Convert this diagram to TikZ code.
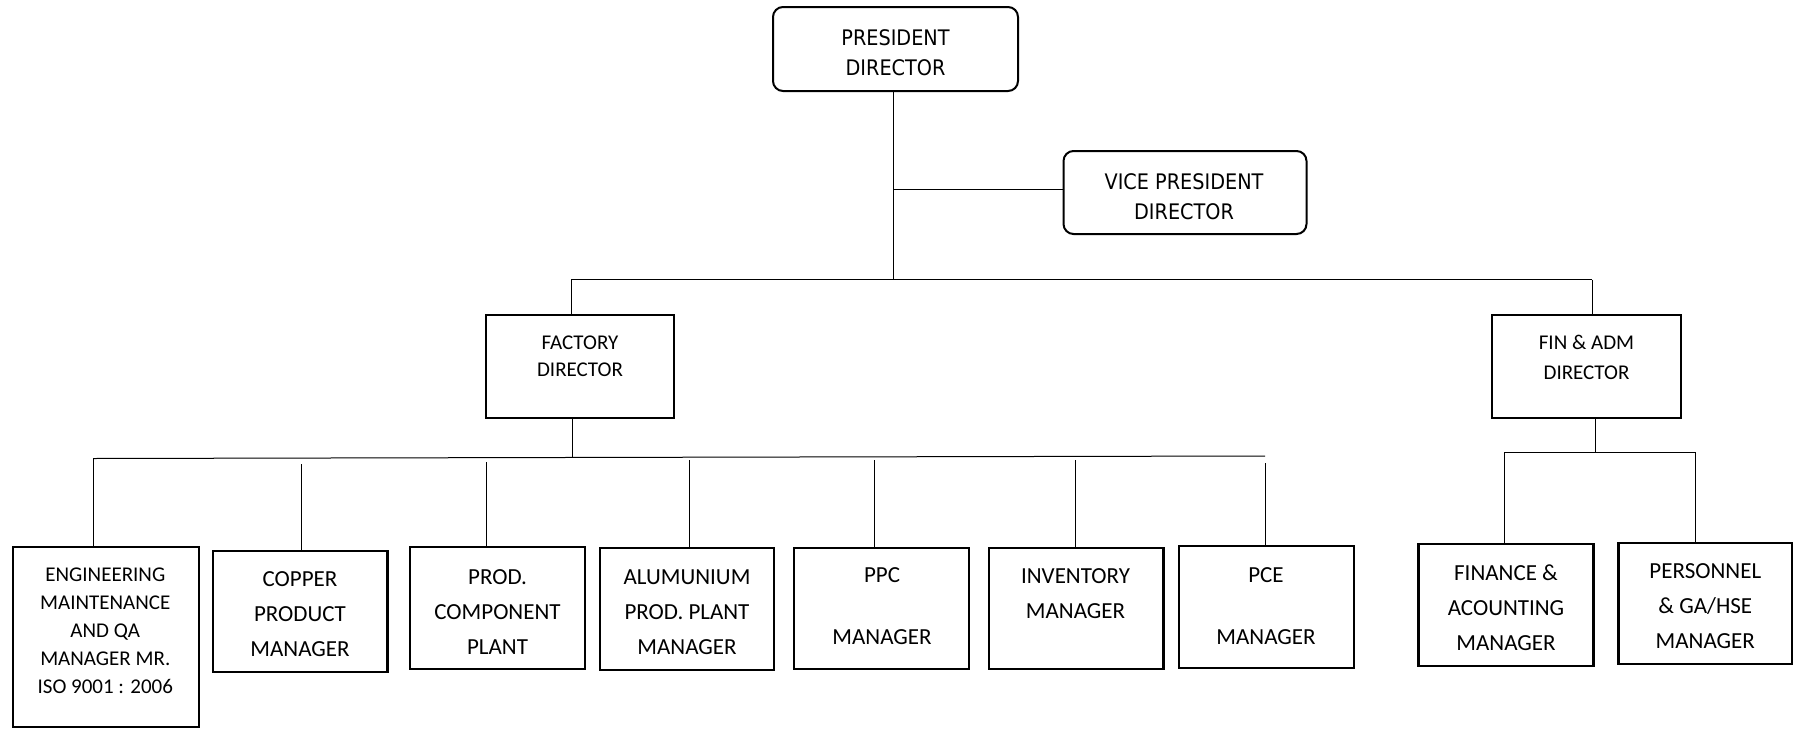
\documentclass[tikz,border=0pt]{standalone}
\usepackage{fontspec}
\setmainfont{Carlito}
\newfontfamily\tahomalike[FakeStretch=0.9]{DejaVu Sans}
\usetikzlibrary{fit}

\begin{document}
\begin{tikzpicture}[
  x=0.5pt, y=-0.5pt,
  box/.style={draw, line width=1.2pt, inner sep=0pt},
  rbox/.style={draw, line width=1pt, rounded corners=5pt, inner sep=0pt},
  wire/.style={line width=0.5pt},
  lbl/.style={align=center, inner sep=0pt},
  tTop/.style={font=\tahomalike\fontsize{10.7}{15}\selectfont},
  tDir/.style={font=\fontsize{10.5}{13.5}\selectfont},
  tFin/.style={font=\fontsize{10.5}{15}\selectfont},
  tEng/.style={font=\fontsize{10.5}{14}\selectfont},
  tMgr/.style={font=\fontsize{11.5}{17.5}\selectfont},
  tGap/.style={font=\fontsize{11.5}{31}\selectfont},
]
\useasboundingbox (0,0) rectangle (1797,728);

% ---- boxes ----
\node[rbox, fit={(773,7) (1018,91)}]        (pres) {};
\node[rbox, fit={(1063.5,151) (1306.5,234)}] (vp) {};
\node[box, fit={(486,315) (674,418)}]       (fac) {};
\node[box, fit={(1492,315) (1681,418)}]     (fin) {};
\node[box, line width=1pt, fit={(12.6,547) (198.6,727)}] (eng) {};
\node[box, fit={(213,551) (387.5,672)}]     (cop) {};
\node[box, fit={(410,547) (585,669)}]       (prod) {};
\node[box, fit={(600,548) (774,670)}]       (alu) {};
\node[box, fit={(794,548) (969,669)}]       (ppc) {};
\node[box, fit={(989,548) (1163.6,669)}]    (inv) {};
\node[box, fit={(1179,546) (1353.7,668)}]   (pce) {};
\node[box, fit={(1418.6,544) (1593.5,665.7)}] (acc) {};
\node[box, fit={(1618.6,543) (1792,664)}]   (hr) {};

% ---- texts ----
\node[lbl, tTop] (pres-t) at (895.5,53)   {PRESIDENT\\DIRECTOR};
\node[lbl, tTop] (vp-t)   at (1184,196.5) {VICE PRESIDENT\\DIRECTOR};
\node[lbl, tDir] (fac-t)  at (580,356)    {FACTORY\\DIRECTOR};
\node[lbl, tFin] (fin-t)  at (1586.5,357.5) {FIN \& ADM\\DIRECTOR};
\node[lbl, tEng] (eng-t)  at (105.3,631)  {ENGINEERING\\MAINTENANCE\\AND QA\\MANAGER MR.\\ISO 9001 : 2006};
\node[lbl, tMgr] (cop-t)  at (300,614.6)  {COPPER\\PRODUCT\\MANAGER};
\node[lbl, tMgr] (prod-t) at (497.5,611.6) {PROD.\\COMPONENT\\PLANT};
\node[lbl, tMgr] (alu-t)  at (687,612.6)  {ALUMUNIUM\\PROD. PLANT\\MANAGER};
\node[lbl, tGap] (ppc-t)  at (882,606)    {PPC\\MANAGER};
\node[lbl, tMgr] (inv-t)  at (1075.5,594) {INVENTORY\\MANAGER};
\node[lbl, tGap] (pce-t)  at (1266,606)   {PCE\\MANAGER};
\node[lbl, tMgr] (acc-t)  at (1506,607.6) {FINANCE \&\\ACOUNTING\\MANAGER};
\node[lbl, tMgr] (hr-t)   at (1705.3,606.6) {PERSONNEL\\\& GA/HSE\\MANAGER};

% ---- junction points ----
\coordinate (trunk)  at (893,279.6);
\coordinate (vpj)    at (893,189);
\coordinate (b1L)    at (571,279.6);
\coordinate (b1R)    at (1592,279.6);
\coordinate (facB)   at (572,456.5);
\coordinate (b2L)    at (93,458.5);
\coordinate (b2R)    at (1265,456);
\coordinate (copT)   at (301,464);
\coordinate (prodT)  at (486,462);
\coordinate (aluT)   at (689,460);
\coordinate (ppcT)   at (874,460);
\coordinate (invT)   at (1075,460);
\coordinate (pceT)   at (1265,463);
\coordinate (finB)   at (1595,452);
\coordinate (b3L)    at (1504.6,452);
\coordinate (b3R)    at (1695.8,452);

% ---- connectors ----
\draw[wire] (pres.south -| trunk) -- (trunk);
\draw[wire] (vpj) -- (vpj -| vp.west);
\draw[wire] (b1L) -- (b1R);
\draw[wire] (b1L) -- (b1L |- fac.north);
\draw[wire] (b1R) -- (b1R |- fin.north);

\draw[wire] (facB |- fac.south) -- (facB);
\draw[wire] (b2L) -- (b2R);
\draw[wire] (b2L) -- (b2L |- eng.north);
\draw[wire] (copT) -- (copT |- cop.north);
\draw[wire] (prodT) -- (prodT |- prod.north);
\draw[wire] (aluT) -- (aluT |- alu.north);
\draw[wire] (ppcT) -- (ppcT |- ppc.north);
\draw[wire] (invT) -- (invT |- inv.north);
\draw[wire] (pceT) -- (pceT |- pce.north);

\draw[wire] (finB |- fin.south) -- (finB);
\draw[wire] (b3L) -- (b3R);
\draw[wire] (b3L) -- (b3L |- acc.north);
\draw[wire] (b3R) -- (b3R |- hr.north);
\end{tikzpicture}
\end{document}
